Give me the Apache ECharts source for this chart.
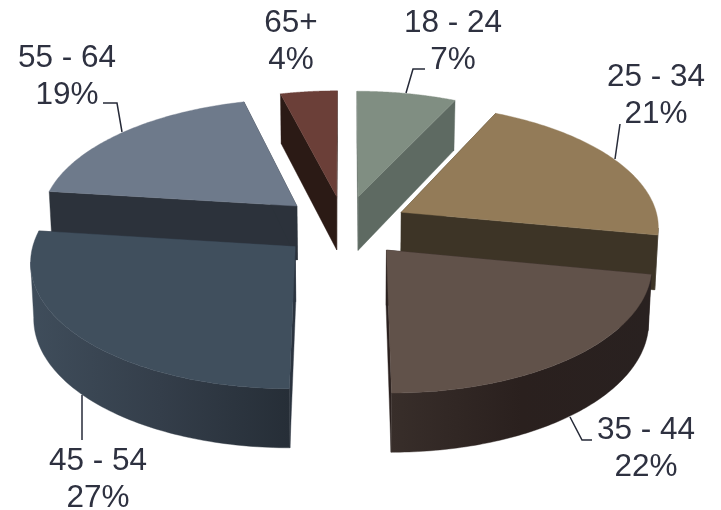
<!DOCTYPE html>
<html>
<head>
<meta charset="utf-8">
<style>html,body{margin:0;padding:0;background:#fff}#chart{width:721px;height:510px}</style>
<script src="https://cdn.jsdelivr.net/npm/echarts@6/dist/echarts.min.js"></script>
</head>
<body>
<div id="chart"></div>
<script>
// Age brackets and their share of the total, in percent.
const categories = ['18 - 24', '25 - 34', '35 - 44', '45 - 54', '55 - 64', '65+'];
const shares = [7, 21, 22, 27, 19, 4];

// Slice colours: top face, side face, outer wall gradient (left to right).
const topColors = ['#808E82', '#937B58', '#61524A', '#404F5D', '#6E7A8B', '#6B3F38'];
const sideColors = ['#5E6A62', '#3D3426', '#2A201E', '#2A333E', '#2C323B', '#2B1A15'];
const wallStops = [
  ['#5E6A62', '#5E6A62'],
  ['#3D3426', '#3D3426'],
  ['#382E2A', '#2A201E', '#292120'],
  ['#3F4D5B', '#343E4A', '#262E37'],
  ['#2C323B', '#2C323B'],
  ['#2B1A15', '#2B1A15']
];

// Far slices are painted first so nearer ones overlap them.
const drawOrder = [5, 0, 4, 1, 3, 2];

// Pie tilted in perspective: plane coordinates to page pixels.
const VIEW = { cx: 344.5, cy: 226, a: 258, b: 122.5, k: 0.105, explode: 0.25, baseShrink: 0.99 };

function project(X, Y) {
  const w = 1 + VIEW.k * Y;
  return [VIEW.cx + VIEW.a * X / w, VIEW.cy - VIEW.b * Y / w];
}
function thickness(Y) {
  return 54.5 - 4 * Y;
}
function lower(X, Y) {
  const p = project(X, Y);
  return [VIEW.cx + (p[0] - VIEW.cx) * VIEW.baseShrink, p[1] + thickness(Y)];
}

const total = shares.reduce((s, v) => s + v, 0);
const toRad = v => v / total * Math.PI * 2;

function sliceAngles(index) {
  let start = 0;
  for (let i = 0; i < index; i++) start += toRad(shares[i]);
  return [start, start + toRad(shares[index])];
}

function polygon(points, fill) {
  return {
    type: 'polygon',
    shape: { points: points },
    style: { fill: fill, stroke: fill, lineWidth: 0.4 }
  };
}

function renderSlice(params, api) {
  const index = api.value(0);
  const [a0, a1] = sliceAngles(index);
  const mid = (a0 + a1) / 2;
  const ox = VIEW.explode * Math.sin(mid);
  const oy = VIEW.explode * Math.cos(mid);

  const rim = [];
  const steps = 90;
  for (let i = 0; i <= steps; i++) {
    const t = a0 + (a1 - a0) * i / steps;
    rim.push([ox + Math.sin(t), oy + Math.cos(t)]);
  }
  const rimTop = rim.map(p => project(p[0], p[1]));
  const rimLow = rim.map(p => lower(p[0], p[1]));
  const tipTop = project(ox, oy);
  const tipLow = lower(ox, oy);

  const side = sideColors[index];
  const children = [
    polygon([tipTop, rimTop[0], rimLow[0], tipLow], side),
    polygon([tipTop, rimTop[steps], rimLow[steps], tipLow], side)
  ];

  // Only the viewer-facing part of the rim gets a wall: clockwise, it runs leftward on the page.
  const facing = [];
  for (let i = 0; i < steps; i++) {
    if (rimTop[i + 1][0] < rimTop[i][0]) {
      if (!facing.length) facing.push(i);
      facing.push(i + 1);
    }
  }
  if (facing.length > 1) {
    const stops = wallStops[index];
    const xs = facing.map(i => rimTop[i][0]);
    const wallFill = new echarts.graphic.LinearGradient(
      Math.min.apply(null, xs), 0, Math.max.apply(null, xs), 0,
      stops.map((c, i) => ({ offset: i / (stops.length - 1), color: c })),
      true
    );
    const upper = facing.map(i => rimTop[i]);
    const under = facing.map(i => rimLow[i]).reverse();
    children.push(polygon(upper.concat(under), wallFill));
  }

  children.push(polygon([tipTop].concat(rimTop), topColors[index]));
  return { type: 'group', children: children };
}

// Label placement: centre x, top of the text block, and its leader line.
const labelLayout = [
  { x: 453, y: 5, leader: [[406, 93], [413, 69], [425, 69]] },
  { x: 656, y: 59, leader: [[615, 159], [620, 124]] },
  { x: 646, y: 412, leader: [[570, 417], [582, 440], [592, 440]] },
  { x: 98, y: 443, leader: [[82, 395], [82, 440]] },
  { x: 67, y: 40, leader: [[122, 132], [117, 103], [103, 103]] },
  { x: 291, y: 5, leader: null }
];

const labelElements = [];
categories.forEach((name, i) => {
  const spot = labelLayout[i];
  labelElements.push({
    type: 'text',
    x: spot.x,
    y: spot.y,
    z: 10,
    style: {
      text: name + '\n' + shares[i] + '%',
      fontFamily: '"Liberation Sans", Arial, sans-serif',
      fontSize: 31.5,
      lineHeight: 37,
      fill: '#2E3140',
      align: 'center',
      verticalAlign: 'top'
    }
  });
  if (spot.leader) {
    labelElements.push({
      type: 'polyline',
      z: 9,
      shape: { points: spot.leader },
      style: { stroke: '#262A38', lineWidth: 1.5, fill: null }
    });
  }
});

const chart = echarts.init(document.getElementById('chart'), null, { renderer: 'canvas' });
chart.setOption({
  animation: false,
  backgroundColor: '#ffffff',
  graphic: { elements: labelElements },
  series: [{
    type: 'custom',
    coordinateSystem: 'none',
    renderItem: renderSlice,
    data: drawOrder.map(i => ({ name: categories[i], value: [i, shares[i]] }))
  }]
});
</script>
</body>
</html>
